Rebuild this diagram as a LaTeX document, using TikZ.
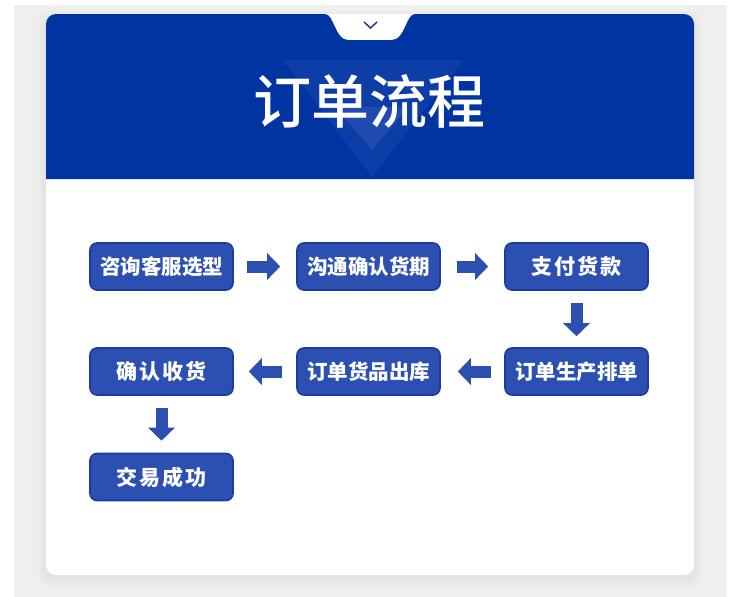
\documentclass[tikz,border=0pt]{standalone}
\usepackage{fontspec}
\usetikzlibrary{arrows.meta}
\newfontfamily\cjk{Noto Sans CJK SC}
\newfontfamily\cjktitle[UprightFont=* Medium]{Noto Sans CJK SC}
\newfontfamily\cjkwide[LetterSpace=9]{Noto Sans CJK SC}
\definecolor{headblue}{RGB}{0,52,163}
\definecolor{boxblue}{RGB}{44,80,178}
\definecolor{boxline}{RGB}{26,60,160}
\definecolor{chevron}{RGB}{35,53,142}
\definecolor{bggray}{RGB}{239,239,239}

\begin{document}
\begin{tikzpicture}[x=1pt,y=-1pt,
  stepbox/.style={draw=boxline,fill=boxblue,line width=1.6pt,rounded corners=7pt,
    minimum width=143pt,minimum height=47pt,inner sep=0pt,text=white,
    font=\cjk\bfseries\fontsize{20.5}{24}\selectfont},
  widebox/.style={stepbox,font=\cjkwide\bfseries\fontsize{21}{24}\selectfont},
  flow/.style={draw=boxblue,line width=12pt,-{Triangle[width=26pt,length=13pt]}}]
\useasboundingbox (0,0) rectangle (750,597);
\fill[white] (0,0) rectangle (750,597);
\fill[bggray] (14,5) rectangle (727,597);

% card and its shadow
\foreach \s in {2,4,6,8}
  \fill[black,opacity=0.012,rounded corners=12pt] (46-\s,14-\s+4) rectangle (694+\s,575+\s+4);
\fill[white,rounded corners=10pt] (46,14) rectangle (694,575);

% header with notch
\fill[headblue] (46,179) -- (46,24) arc[start angle=180,end angle=90,radius=10pt]
  -- (325,14) .. controls (334,14) and (335,40) .. (348,40) -- (392,40)
  .. controls (405,40) and (406,14) .. (415,14)
  -- (684,14) arc[start angle=90,end angle=0,radius=10pt] -- (694,179) -- cycle;
\fill[white,opacity=0.05] (283,60) -- (463,60) -- (372,177) -- cycle;
\fill[white,opacity=0.07] (335,107) -- (409,107) -- (372,150) -- cycle;
\draw[chevron,line width=1.5pt] (364,22) -- (370.5,28) -- (377,22);
\node[text=white,font=\cjktitle\fontsize{58}{64}\selectfont] (title) at (369,101) {订单流程};

% steps
\node[stepbox] (consult) at (161.5,266.5) {咨询客服选型};
\node[stepbox] (confirm) at (368.5,266.5) {沟通确认货期};
\node[widebox] (pay) at (576.5,266.5) {支付货款};
\node[stepbox] (produce) at (576.5,371.5) {订单生产排单};
\node[stepbox] (ship) at (368.5,371.5) {订单货品出库};
\node[widebox] (receive) at (161.5,371.5) {确认收货};
\node[widebox] (done) at (161.5,477) {交易成功};

\draw[flow,shorten <=13pt,shorten >=16pt] (consult) -- (confirm);
\draw[flow,shorten <=16pt,shorten >=16pt] (confirm) -- (pay);
\draw[flow,shorten <=12pt,shorten >=11pt] (pay) -- (produce);
\draw[flow,shorten <=13pt,shorten >=17pt] (produce) -- (ship);
\draw[flow,shorten <=14pt,shorten >=15pt] (ship) -- (receive);
\draw[flow,shorten <=12pt,shorten >=12pt] (receive) -- (done);

\end{tikzpicture}
\end{document}
